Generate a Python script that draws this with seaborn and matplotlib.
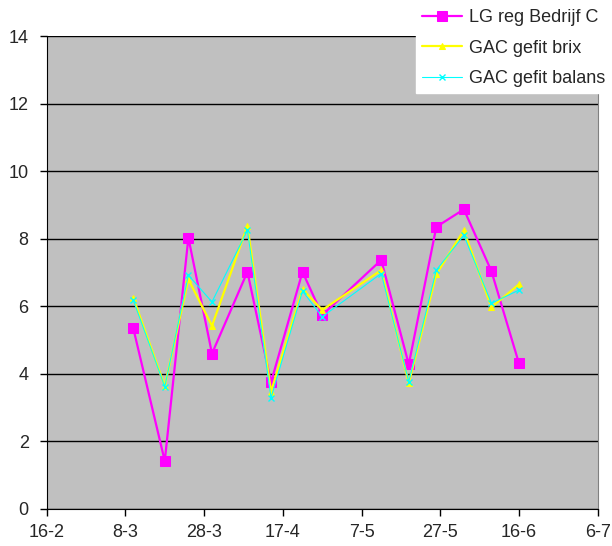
import pandas as pd
import matplotlib
matplotlib.use("Agg")
import matplotlib.pyplot as plt
import seaborn as sns

# Data
dates = pd.to_datetime([
    "2007-03-10", "2007-03-18", "2007-03-24", "2007-03-30", "2007-04-08",
    "2007-04-14", "2007-04-22", "2007-04-27", "2007-05-12", "2007-05-19",
    "2007-05-26", "2007-06-02", "2007-06-09", "2007-06-16",
])
lg_reg = [5.35, 1.42, 8.03, 4.60, 7.02, 3.75, 7.02, 5.74, 7.37, 4.28, 8.35, 8.87, 7.04, 4.31]
gac_brix = [6.25, 3.64, 6.80, 5.42, 8.38, 3.47, 6.51, 5.89, 7.07, 3.72, 6.95, 8.25, 5.97, 6.65]
gac_balans = [6.18, 3.62, 6.92, 6.13, 8.25, 3.29, 6.45, 5.69, 6.97, 3.77, 7.07, 8.10, 6.09, 6.48]

tick_dates = pd.date_range("2007-02-16", periods=8, freq="20D")
tick_labels = ["16-2", "8-3", "28-3", "17-4", "7-5", "27-5", "16-6", "6-7"]

sns.set_style("ticks")
plt.rcParams["font.family"] = ["Liberation Sans", "DejaVu Sans"]

fig = plt.figure(figsize=(6.12, 5.46), dpi=100)
ax = fig.add_axes([0.0763, 0.0678, 0.9003, 0.8662])
ax.set_facecolor("#C0C0C0")

sns.lineplot(x=dates, y=lg_reg, ax=ax, color="#FF00FF", marker="s", markersize=7.5,
             markeredgecolor="#FF00FF", linewidth=1.6, label="LG reg Bedrijf C", zorder=3)
sns.lineplot(x=dates, y=gac_brix, ax=ax, color="#FFFF00", marker="^", markersize=5,
             markeredgecolor="#FFFF00", linewidth=1.6, label="GAC gefit brix", zorder=4)
sns.lineplot(x=dates, y=gac_balans, ax=ax, color="#00FFFF", marker="x", markersize=4.5,
             markeredgecolor="#00FFFF", markeredgewidth=1, linewidth=0.8,
             label="GAC gefit balans", zorder=5)

ax.set_ylim(0, 14)
ax.set_yticks(range(0, 15, 2))
ax.set_xlim(tick_dates[0], tick_dates[-1])
ax.set_xticks(tick_dates)
ax.set_xticklabels(tick_labels)
ax.yaxis.grid(True, color="black", linewidth=1)
ax.set_axisbelow(True)
ax.set_xlabel("")
ax.set_ylabel("")
ax.tick_params(axis="both", labelsize=13, direction="out", length=5, width=1,
               color="black")
ax.tick_params(axis="x", pad=6)
ax.tick_params(axis="y", pad=8)

ax.spines["top"].set_visible(False)
ax.spines["right"].set_color("#808080")
ax.spines["left"].set_color("black")
ax.spines["bottom"].set_color("black")

leg = ax.legend(loc="upper right", bbox_to_anchor=(1.0, 0.995), bbox_transform=fig.transFigure,
                fontsize=13, frameon=True, fancybox=False, borderaxespad=0,
                handlelength=2.2, handletextpad=0.4, labelspacing=0.75, borderpad=0.35)
leg.get_frame().set_facecolor("white")
leg.get_frame().set_edgecolor("white")
leg.get_frame().set_alpha(1)

fig.savefig("out.png", dpi=100)
